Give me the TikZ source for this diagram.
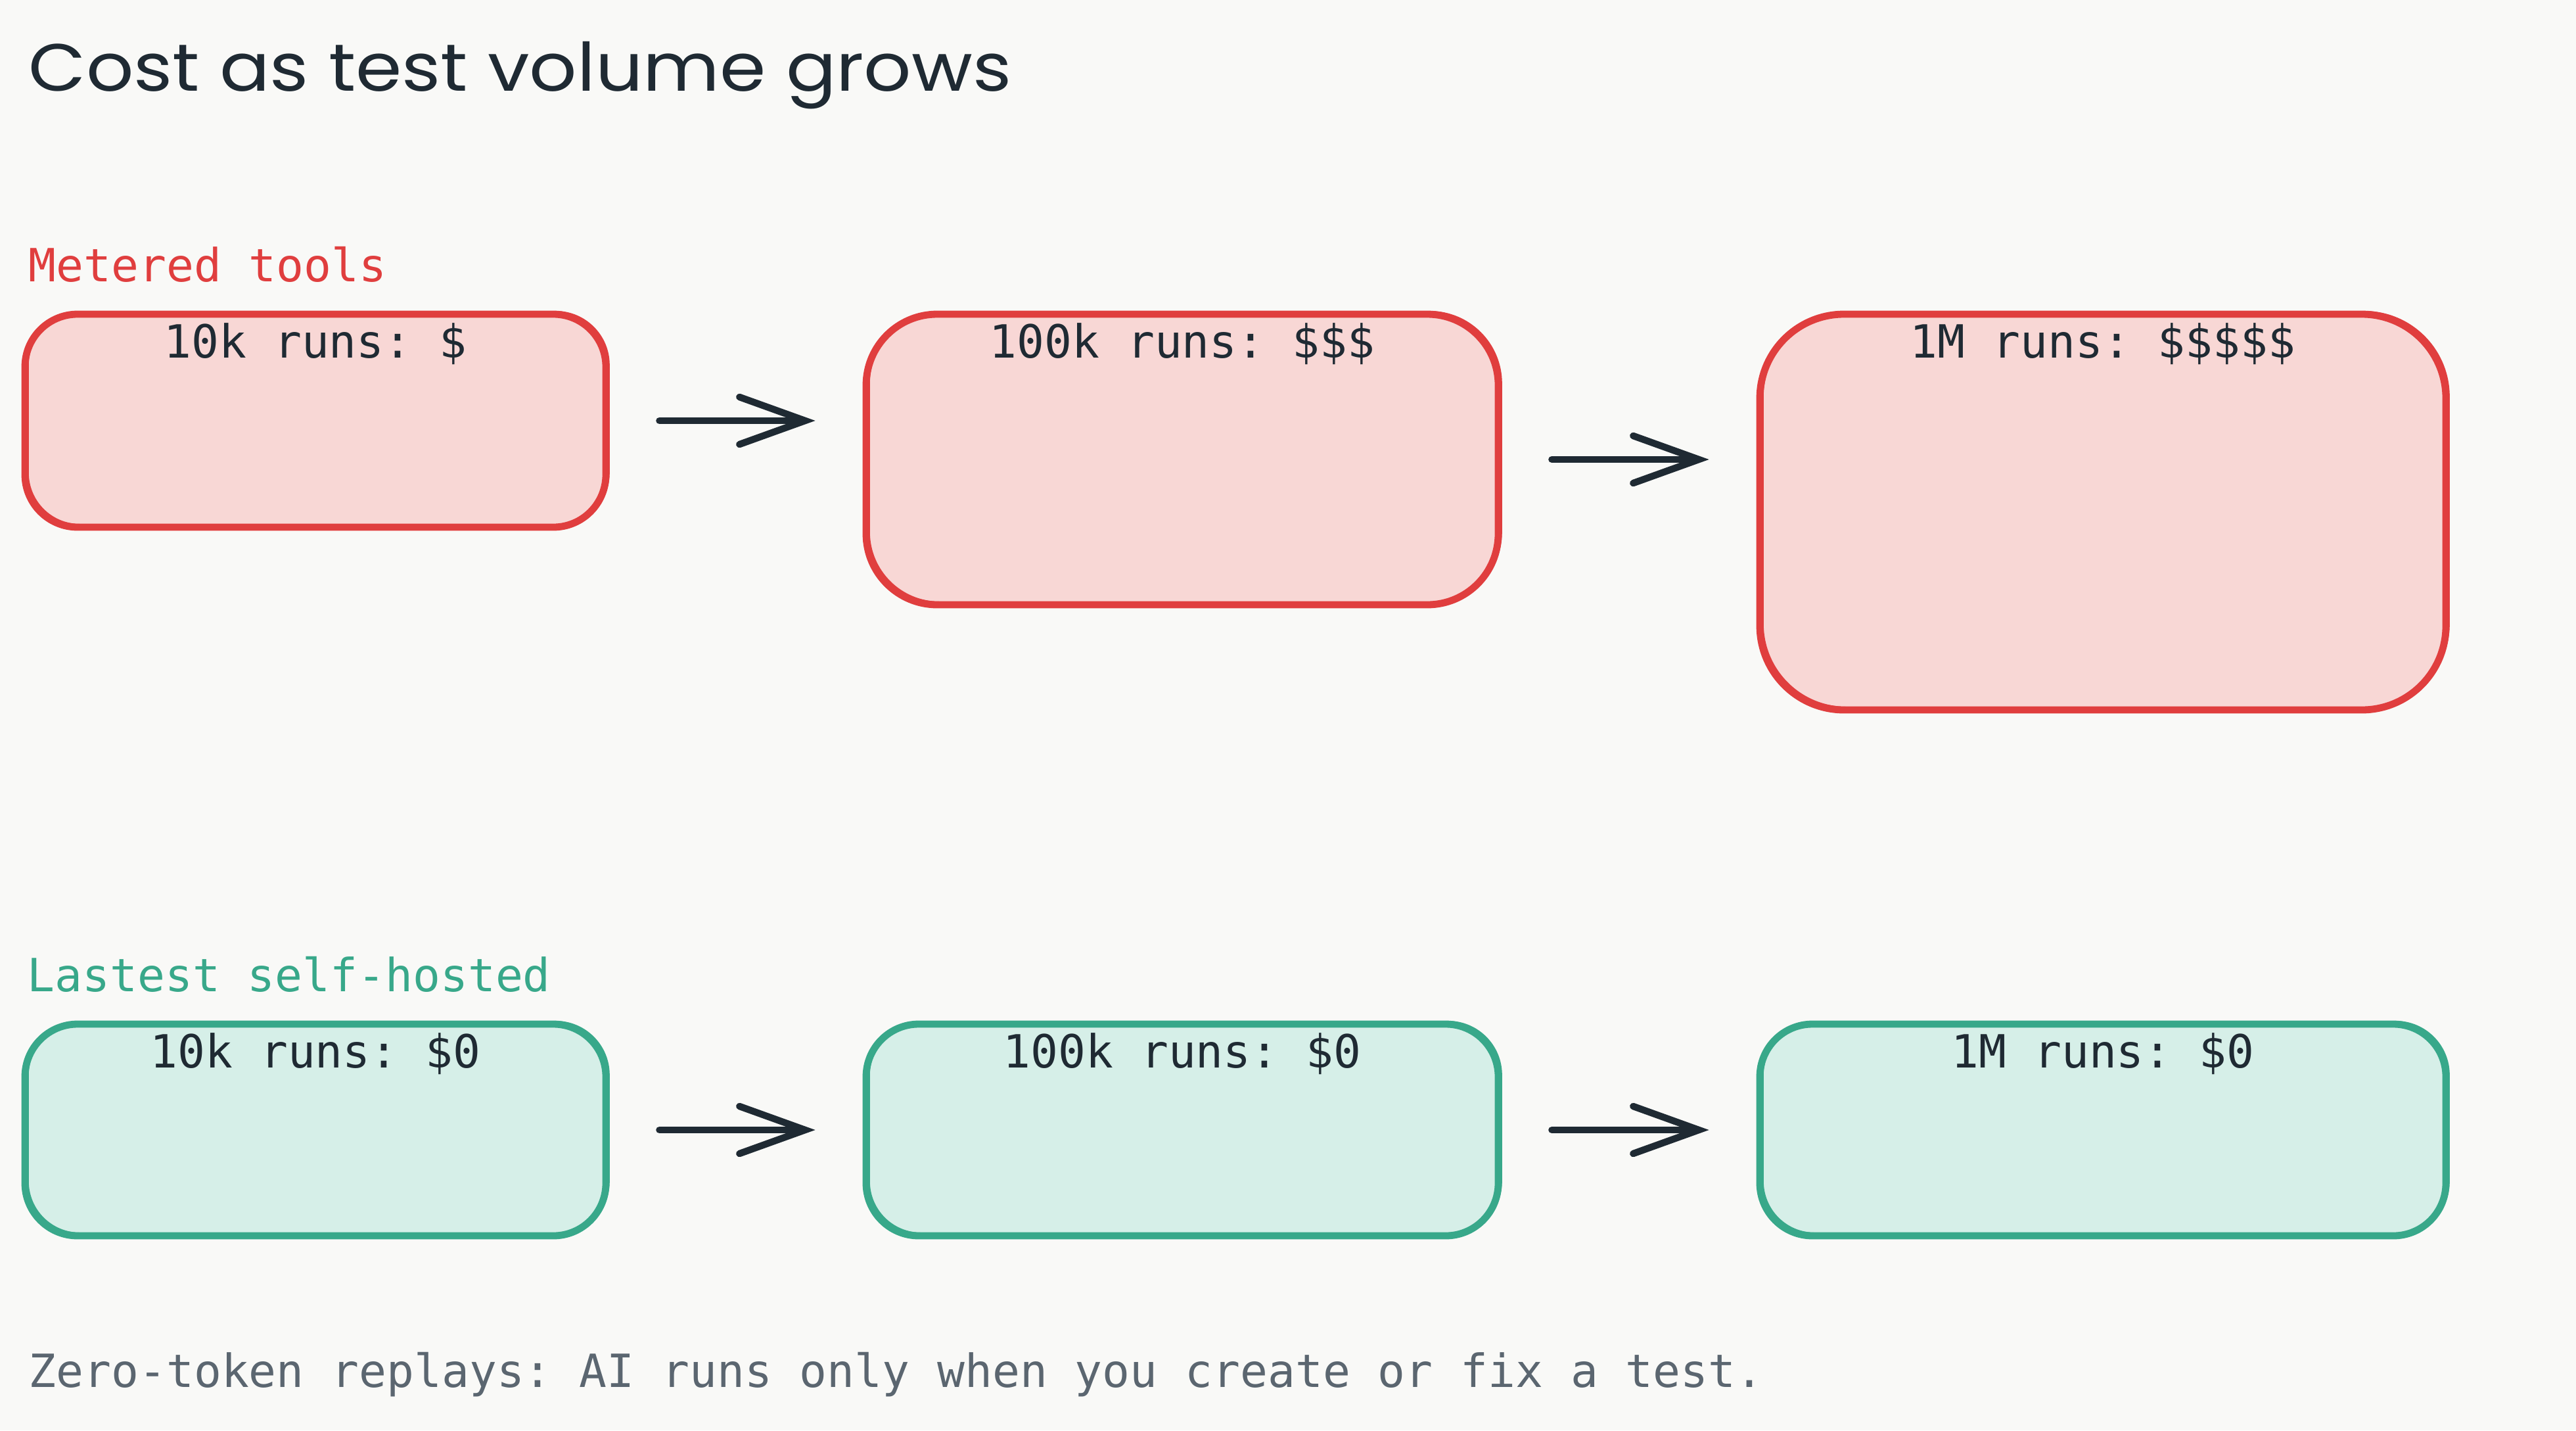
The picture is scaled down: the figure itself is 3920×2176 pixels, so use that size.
\documentclass[tikz,border=0pt]{standalone}
\usepackage{fontspec}
\usepackage{graphicx}
\setmonofont{DejaVu Sans Mono}
\newfontfamily\titlefont{Poppins}
\usetikzlibrary{arrows.meta,calc}
\definecolor{bgc}{HTML}{F9F9F7}
\definecolor{ink}{HTML}{1F2A33}
\definecolor{redline}{HTML}{E03E3E}
\definecolor{redfill}{HTML}{F8D7D5}
\definecolor{greenline}{HTML}{38A88A}
\definecolor{greenfill}{HTML}{D6EFE8}
\definecolor{footgray}{HTML}{5B6670}
\tikzset{
  monotext/.style={font=\fontsize{17.4}{20}\selectfont\ttfamily, inner sep=0pt},
  boxbase/.style={rectangle, inner sep=0pt, line width=2.7pt},
  sketch/.style={postaction={draw=#1, line width=1.1pt, fill=none,
      transform canvas={shift={(0.9pt,0.7pt)}}}},
  redbox/.style={boxbase, draw=redline, fill=redfill, sketch=redline},
  greenbox/.style={boxbase, draw=greenline, fill=greenfill, sketch=greenline},
  flowarrow/.style={draw=ink, line width=2.6pt, line cap=round, line join=round,
    -{Straight Barb[length=25pt,width=18pt,line cap=round]},
    shorten <=19pt, shorten >=18pt},
  boxlabel/.style={monotext, text=ink, anchor=base},
}
\begin{document}
\begin{tikzpicture}[x=0.25pt,y=-0.25pt]
\fill[bgc] (0,0) rectangle (3920,2176);
\useasboundingbox (0,0) rectangle (3920,2176);

% title
\node[anchor=base west, inner sep=0pt, text=ink, font=\titlefont\fontsize{25.4}{30}\selectfont] (title) at (43,138) {\scalebox{1.115}[1]{Cost as test volume grows}};

% section headings
\node[monotext, anchor=base west, text=redline] (hmeter) at (43,428) {Metered tools};
\node[monotext, anchor=base west, text=greenline] (hself) at (41,1508) {Lastest self-hosted};

% red boxes
\node[redbox, rounded corners=20pt, minimum width=884*0.25pt, minimum height=324*0.25pt] (r1) at (480,640) {};
\node[redbox, rounded corners=27pt, minimum width=962*0.25pt, minimum height=442*0.25pt] (r2) at (1799,699) {};
\node[redbox, rounded corners=32pt, minimum width=1044*0.25pt, minimum height=602*0.25pt] (r3) at (3200,779) {};

\node[boxlabel] (r1t) at ($(r1.north)+(0,72)$) {10k runs: \$};
\node[boxlabel] (r2t) at ($(r2.north)+(0,72)$) {100k runs: \$\$\$};
\node[boxlabel] (r3t) at ($(r3.north)+(0,72)$) {1M runs: \$\$\$\$\$};

% green boxes
\node[greenbox, rounded corners=20pt, minimum width=884*0.25pt, minimum height=322*0.25pt] (g1) at (480,1719) {};
\node[greenbox, rounded corners=20pt, minimum width=962*0.25pt, minimum height=322*0.25pt] (g2) at (1799,1719) {};
\node[greenbox, rounded corners=20pt, minimum width=1044*0.25pt, minimum height=322*0.25pt] (g3) at (3200,1719) {};

\node[boxlabel] (g1t) at ($(g1.north)+(0,72)$) {10k runs: \$0};
\node[boxlabel] (g2t) at ($(g2.north)+(0,72)$) {100k runs: \$0};
\node[boxlabel] (g3t) at ($(g3.north)+(0,72)$) {1M runs: \$0};

% arrows
\draw[flowarrow] (r1.east) -- (r1.east -| r2.west);
\draw[flowarrow] (r2.east) -- (r2.east -| r3.west);
\draw[flowarrow] (g1.east) -- (g1.east -| g2.west);
\draw[flowarrow] (g2.east) -- (g2.east -| g3.west);

% footer
\node[monotext, anchor=base west, text=footgray] (foot) at (43,2110) {Zero-token replays: AI runs only when you create or fix a test.};
\end{tikzpicture}
\end{document}
